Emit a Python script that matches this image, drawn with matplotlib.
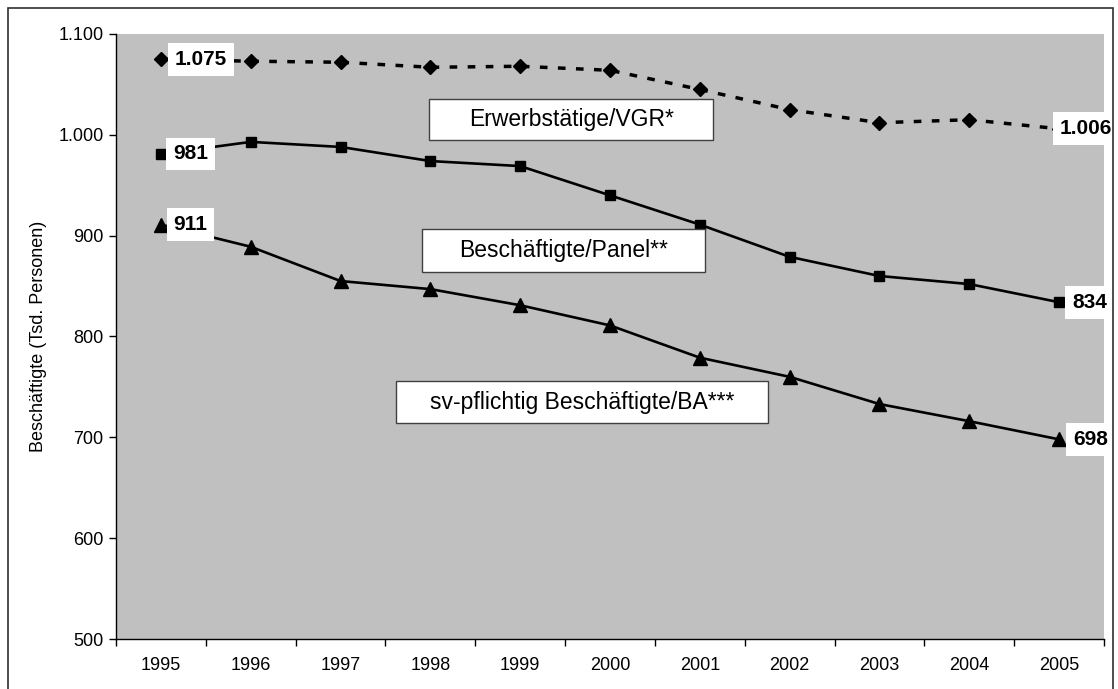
import matplotlib
matplotlib.use("Agg")
import matplotlib.pyplot as plt
from matplotlib.patches import Rectangle

plt.rcParams['font.family'] = ['Liberation Sans', 'DejaVu Sans']

# ----------------- Data -----------------
years = ["1995", "1996", "1997", "1998", "1999", "2000", "2001", "2002", "2003", "2004", "2005"]
erwerbstaetige_vgr = [1075, 1073, 1072, 1067, 1068, 1064, 1045, 1025, 1012, 1015, 1006]
beschaeftigte_panel = [981, 993, 988, 974, 969, 940, 911, 879, 860, 852, 834]
sv_beschaeftigte_ba = [911, 889, 855, 847, 831, 811, 779, 760, 733, 716, 698]
y_ticks = [500, 600, 700, 800, 900, 1000, 1100]
y_tick_labels = ["500", "600", "700", "800", "900", "1.000", "1.100"]
series_names = ["Erwerbstätige/VGR*", "Beschäftigte/Panel**", "sv-pflichtig Beschäftigte/BA***"]


def de_num(v):
    # german thousands separator
    return f"{v:,}".replace(",", ".")


W, H = 1118, 689
fig = plt.figure(figsize=(W / 100, H / 100), dpi=100)
ax = fig.add_axes([116 / W, 1 - 639 / H, (1104 - 116) / W, (639 - 34) / H])
ax.set_facecolor("#c0c0c0")

x = list(range(len(years)))

# ----------------- Lines -----------------
ax.plot(x, erwerbstaetige_vgr, color="black", lw=2.5, linestyle=(0, (2.2, 3.0)),
        marker="D", markersize=7.5, zorder=3)
ax.plot(x, beschaeftigte_panel, color="black", lw=1.9,
        marker="s", markersize=7.5, zorder=3)
ax.plot(x, sv_beschaeftigte_ba, color="black", lw=1.9,
        marker="^", markersize=10.5, zorder=3)

# ----------------- Axes -----------------
ax.set_xlim(-0.5, len(years) - 0.5)
ax.set_ylim(500, 1100)
ax.set_yticks(y_ticks)
ax.set_yticklabels(y_tick_labels, fontsize=13)
ax.set_xticks([i - 0.5 for i in range(len(years) + 1)])
ax.set_xticklabels([])
ax.set_xticks(x, minor=True)
ax.set_xticklabels(years, minor=True, fontsize=13)
ax.tick_params(axis="x", which="major", direction="out", length=5, width=1)
ax.tick_params(axis="x", which="minor", length=0, pad=13)
ax.tick_params(axis="y", direction="out", length=5, width=1, pad=4)
for s in ["top", "right"]:
    ax.spines[s].set_visible(False)
ax.spines["left"].set_linewidth(1)
ax.spines["bottom"].set_linewidth(1)
ax.set_ylabel("Beschäftigte (Tsd. Personen)", fontsize=13, labelpad=8)

# ----------------- Data labels -----------------
lab = dict(fontsize=15, fontweight="bold", ha="center", va="center", zorder=5,
           clip_on=False, bbox=dict(facecolor="white", edgecolor="none", pad=5))
ax.text(0.445, erwerbstaetige_vgr[0], de_num(erwerbstaetige_vgr[0]), **lab)
ax.text(0.33, beschaeftigte_panel[0], de_num(beschaeftigte_panel[0]), **lab)
ax.text(0.33, sv_beschaeftigte_ba[0], de_num(sv_beschaeftigte_ba[0]), **lab)
ax.text(10.3, erwerbstaetige_vgr[-1], de_num(erwerbstaetige_vgr[-1]), **lab)
ax.text(10.34, beschaeftigte_panel[-1], de_num(beschaeftigte_panel[-1]), **lab)
ax.text(10.35, sv_beschaeftigte_ba[-1], de_num(sv_beschaeftigte_ba[-1]), **lab)

# ----------------- Series name boxes -----------------
# (center x in categories, center y in data, box width px, box height px)
name_boxes = [(4.57, 1015, 284, 41), (4.48, 885, 283, 43), (4.69, 735, 372, 42)]
px_x = (len(years)) / (1104 - 116)
px_y = 600 / (639 - 34)
for name, (cx, cy, bw, bh) in zip(series_names, name_boxes):
    ax.add_patch(Rectangle((cx - bw * px_x / 2, cy - bh * px_y / 2), bw * px_x, bh * px_y,
                           facecolor="white", edgecolor="#404040", lw=1, zorder=4))
    ax.text(cx, cy, name, fontsize=16.5, ha="center", va="center", zorder=5)

# ----------------- Outer frame -----------------
fig.patches.append(Rectangle((8 / W, -0.05), (1113 - 8) / W, 1.05 - 8 / H,
                             transform=fig.transFigure, fill=False,
                             edgecolor="#303030", lw=1.2))

fig.savefig("out.png", dpi=100)
